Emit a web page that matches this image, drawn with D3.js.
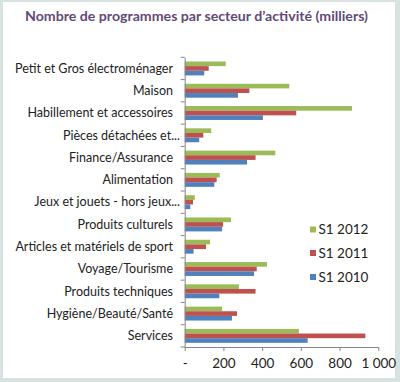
<!DOCTYPE html>
<html><head><meta charset="utf-8">
<script src="https://cdn.jsdelivr.net/npm/d3@7"></script>
<style>
html,body{margin:0;padding:0;background:#fff;}
svg{display:block;}
text{font-family:Lato,"Open Sans",sans-serif;}
</style></head>
<body>
<svg id="chart" width="400" height="382"></svg>
<script>
const title = "Nombre de programmes par secteur d\u2019activit\u00e9 (milliers)";
const categories = [
  "Petit et Gros \u00e9lectrom\u00e9nager",
  "Maison",
  "Habillement et accessoires",
  "Pi\u00e8ces d\u00e9tach\u00e9es et...",
  "Finance/Assurance",
  "Alimentation",
  "Jeux et jouets - hors jeux...",
  "Produits culturels",
  "Articles et mat\u00e9riels de sport",
  "Voyage/Tourisme",
  "Produits techniques",
  "Hygi\u00e8ne/Beaut\u00e9/Sant\u00e9",
  "Services"
];
const seriesNames = ["S1 2012", "S1 2011", "S1 2010"];
const s2012 = [212, 540, 864, 137, 468, 181, 52, 239, 131, 425, 280, 193, 590];
const s2011 = [124, 334, 576, 96, 366, 165, 43, 198, 110, 372, 366, 270, 933];
const s2010 = [101, 275, 404, 75, 322, 153, 29, 193, 46, 358, 179, 244, 635];
const xTicks = [0, 200, 400, 600, 800, 1000];
const xTickLabels = ["-", "200", "400", "600", "800", "1 000"];
const colors = ["#9bbb59", "#c0504d", "#4f81bd"];
const seriesValues = [s2012, s2011, s2010];

const svg = d3.select("#chart");
// frame
svg.append("rect").attr("x",0).attr("y",0).attr("width",400).attr("height",382).attr("fill","#d6e3e1");
svg.append("rect").attr("x",3).attr("y",2).attr("width",392).attr("height",376).attr("fill","#fff");

svg.append("text").attr("x",25).attr("y",21).attr("fill","#5f497a")
  .attr("font-size",13.5).attr("font-weight","bold")
  .attr("textLength",343).attr("lengthAdjust","spacingAndGlyphs").text(title);

const x = d3.scaleLinear().domain([0,1000]).range([184.7, 378.3]);
const y = d3.scaleBand().domain(categories).range([57.3, 347]).padding(0);
const ySub = d3.scaleBand().domain(seriesNames).range([0, y.bandwidth()]).paddingOuter(0.9).paddingInner(0);

const g = svg.append("g");
seriesNames.forEach((s, si) => {
  g.selectAll(null).data(categories).enter().append("rect")
    .attr("x", x(0))
    .attr("y", d => y(d) + ySub(s))
    .attr("width", (d,i) => x(seriesValues[si][i]) - x(0))
    .attr("height", ySub.bandwidth())
    .attr("fill", colors[si]);
});

// y axis
const yAxis = d3.axisLeft(y).tickSize(0).tickFormat("");
const ya = svg.append("g").attr("transform", `translate(${x(0)},0)`).call(yAxis);
ya.select(".domain").attr("stroke","#868686");
const boundaries = categories.map(c => y(c)).concat([y.range()[1]]);
svg.append("g").selectAll("line").data(boundaries).enter().append("line")
  .attr("x1", x(0)-4).attr("x2", x(0)).attr("y1", d=>d).attr("y2", d=>d)
  .attr("stroke","#868686");
svg.append("g").selectAll("text").data(categories).enter().append("text")
  .attr("x", d => d.endsWith("...") ? 180 : 173)
  .attr("y", d => y(d) + y.bandwidth()/2 + 4.3)
  .attr("text-anchor","end").attr("font-size",12.5).attr("fill","#222").text(d=>d);

// x axis
const xAxis = d3.axisBottom(x).tickValues(xTicks).tickSize(4).tickPadding(7)
  .tickFormat((d,i) => xTickLabels[i]);
const xa = svg.append("g").attr("transform", `translate(0,${y.range()[1]})`).call(xAxis);
xa.select(".domain").attr("stroke","#868686").attr("d", `M${x(0)},0.5H${x(1000)}`);
xa.selectAll(".tick line").attr("stroke","#868686");
xa.selectAll(".tick text").attr("font-size",13.5).attr("fill","#222").attr("font-family","Lato,sans-serif");

// legend
const lg = svg.append("g");
const legY = [229.5, 253, 277];
seriesNames.forEach((s, i) => {
  lg.append("rect").attr("x",310).attr("y",legY[i]-3).attr("width",6).attr("height",6).attr("fill",colors[i]);
  lg.append("text").attr("x",318.5).attr("y",legY[i]+4.5).attr("font-size",13.5).attr("fill","#222").text(s);
});
</script>
</body></html>
